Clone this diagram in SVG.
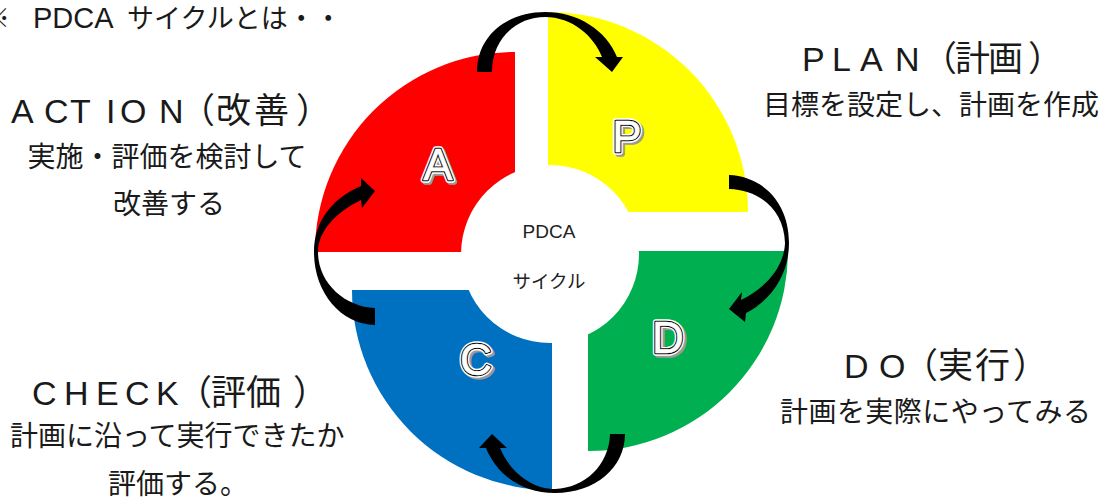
<svg xmlns="http://www.w3.org/2000/svg" width="1107" height="502" viewBox="0 0 1107 502">
  <style>
    .jp { font-family: "Noto Sans CJK JP", "Liberation Sans", sans-serif; fill: #1a1a1a; }
    .lat { font-family: "Liberation Sans", "Noto Sans", sans-serif; }
    .head-lat { font-size: 34px; }
    .head-jp { font-size: 35px; }
    .sub { font-size: 28px; }
    .hub-lat { font-family: "Liberation Sans", sans-serif; font-size: 19px; fill: #222; text-anchor: middle; }
    .hub-jp { font-family: "Noto Sans CJK JP", sans-serif; font-size: 18.5px; fill: #222; text-anchor: middle; }
    .arrow { fill: #000; }
    .ltr { font-family: "Liberation Sans", "DejaVu Sans", sans-serif; font-size: 44px; text-anchor: middle; stroke-linejoin: round; }
    .ltr-shadow { fill: #9a9a9a; stroke: #9a9a9a; stroke-width: 5.5; }
    .ltr-halo { fill: #fff; stroke: #fff; stroke-width: 5.5; }
    .ltr-line { fill: #fff; stroke: #000; stroke-width: 2.6; }
    .ltr-face { fill: #fff; stroke: #fff; stroke-width: 0.6; }
  </style>
  <rect width="1107" height="502" fill="#fff"/>

  <!-- title line -->
  <text class="jp" font-size="27" y="28"><tspan x="-17">※</tspan><tspan class="lat" font-size="29" x="33">PDCA</tspan><tspan x="127">サイクルとは・・</tspan></text>

  <!-- four quadrants -->
  <g id="node-plan">
    <path d="M548,212 L548,12 A200,200 0 0 1 748,212 Z" fill="#FFFF00"/>
  </g>
  <g id="node-action">
    <path d="M515,252 L315,252 A200,200 0 0 1 515,52 Z" fill="#FF0000"/>
  </g>
  <g id="node-do">
    <path d="M588,251 L788,251 A200,200 0 0 1 588,451 Z" fill="#00B050"/>
  </g>
  <g id="node-check">
    <path d="M552,290 L552,490 A200,200 0 0 1 352,290 Z" fill="#0070C0"/>
  </g>

  <!-- hub -->
  <g id="node-hub">
    <circle cx="550" cy="254" r="89" fill="#fff"/>
    <text class="hub-lat" x="549" y="238">PDCA</text>
    <text class="hub-jp" x="549" y="288">サイクル</text>
  </g>

  <!-- cycle arrows -->
  <g id="connectors">
    <path class="arrow" d="M477,72 C477,35 508,12 545,12 C578,12 606,30 617,57 L623,57 L612,72 L595,57 L602,57 C594,36 572,17 545,17 C517,17 492,38 492,72 Z"/>
    <path class="arrow" d="M729,175 C760,176 789,200 789,243 C789,275 771,300 746,313 L745,322 L729,309 L742,292 L741,300 C765,288 784,268 785,243 C784,210 760,190 729,189 Z"/>
    <path class="arrow" d="M625,434 C625,468 595,493 555,493 C522,493 497,475 486,448 L479,448 L492,434 L507,448 L500,448 C510,472 532,489 555,489 C585,488 609,465 610,434 Z"/>
    <path class="arrow" d="M375,325 C340,324 314,292 314,252 C314,222 332,198 361,186 L361,178 L375,191 L362,208 L361,200 C338,211 318,230 318,252 C318,283 345,307 375,308 Z"/>
  </g>

  <!-- quadrant letters -->
  <g id="label-p">
    <text class="ltr ltr-shadow" x="629" y="154">P</text>
    <text class="ltr ltr-halo" x="627" y="152">P</text>
    <text class="ltr ltr-line" x="627" y="152">P</text>
    <text class="ltr ltr-face" x="627" y="152">P</text>
  </g>
  <g id="label-a">
    <text class="ltr ltr-shadow" x="440" y="182">A</text>
    <text class="ltr ltr-halo" x="438" y="180">A</text>
    <text class="ltr ltr-line" x="438" y="180">A</text>
    <text class="ltr ltr-face" x="438" y="180">A</text>
  </g>
  <g id="label-d">
    <text class="ltr ltr-shadow" x="670" y="355">D</text>
    <text class="ltr ltr-halo" x="668" y="353">D</text>
    <text class="ltr ltr-line" x="668" y="353">D</text>
    <text class="ltr ltr-face" x="668" y="353">D</text>
  </g>
  <g id="label-c">
    <text class="ltr ltr-shadow" x="478" y="377">C</text>
    <text class="ltr ltr-halo" x="476" y="375">C</text>
    <text class="ltr ltr-line" x="476" y="375">C</text>
    <text class="ltr ltr-face" x="476" y="375">C</text>
  </g>

  <!-- descriptions -->
  <g id="text-plan">
    <text class="jp" y="71"><tspan class="lat head-lat" x="802 832 860 895">PLAN</tspan><tspan class="head-jp" x="922 955 988 1028">（計画）</tspan></text>
    <text class="jp sub" x="763" y="115">目標を設定し、計画を作成</text>
  </g>
  <g id="text-action">
    <text class="jp" y="123"><tspan class="lat head-lat" x="11 44 70 106 120 159">ACTION</tspan><tspan class="head-jp" x="180 216 254 296">（改善）</tspan></text>
    <text class="jp sub" x="167" y="167" text-anchor="middle">実施・評価を検討して</text>
    <text class="jp sub" x="169" y="214" text-anchor="middle">改善する</text>
  </g>
  <g id="text-do">
    <text class="jp" y="378"><tspan class="lat head-lat" x="844 879">DO</tspan><tspan class="head-jp" x="903 938 975 1013">（実行）</tspan></text>
    <text class="jp sub" x="780" y="422" textLength="311">計画を実際にやってみる</text>
  </g>
  <g id="text-check">
    <text class="jp" y="405"><tspan class="lat head-lat" x="32 64 96 125 156">CHECK</tspan><tspan class="head-jp" x="177 211 246 293">（評価）</tspan></text>
    <text class="jp sub" x="10" y="446">計画に沿って実行できたか</text>
    <text class="jp sub" x="108" y="494">評価する。</text>
  </g>
</svg>
